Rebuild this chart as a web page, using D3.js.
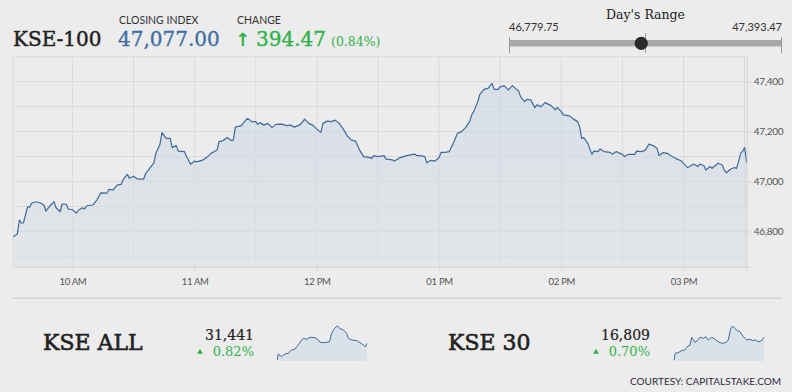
<!DOCTYPE html>
<html>
<head>
<meta charset="utf-8">
<script src="https://cdn.jsdelivr.net/npm/d3@7"></script>
<style>
  html, body { margin: 0; padding: 0; background: #ececec; }
  svg { display: block; }
</style>
</head>
<body>
<svg id="chart" width="792" height="392"></svg>
<script>
// ---- data ----
const indexName = 'KSE-100';
const closingIndex = 47077.00;
const indexChange = 394.47;
const indexChangePct = 0.84;
const dayLow = 46779.75;
const dayHigh = 47393.47;

// [minutes after 09:30, index value]
const kse100Series = [
  [1,46779],[3,46790],[4,46846],[5,46833],[6,46835],[8,46899],[9,46897],[10,46913],[12,46919],[14,46915],
  [16,46906],[17,46882],[19,46903],[21,46919],[22,46895],[24,46879],[25,46910],[27,46909],[28,46890],[30,46887],
  [32,46874],[33,46885],[35,46895],[36,46890],[37,46903],[40,46906],[42,46926],[44,46955],[47,46954],[48,46969],
  [50,46967],[52,46986],[54,46989],[55,47009],[57,47029],[58,47013],[60,47021],[62,47010],[65,47010],[66,47033],
  [67,47043],[70,47075],[71,47113],[73,47149],[74,47196],[76,47173],[78,47173],[79,47136],[81,47144],[82,47122],
  [85,47120],[86,47100],[88,47069],[90,47082],[91,47079],[94,47086],[96,47097],[98,47112],[101,47126],[102,47160],
  [104,47164],[106,47176],[108,47164],[109,47166],[110,47218],[113,47224],[114,47236],[116,47253],[118,47240],[120,47240],
  [121,47229],[122,47236],[124,47226],[126,47233],[128,47216],[130,47229],[133,47230],[135,47224],[137,47226],[139,47218],
  [142,47229],[144,47250],[146,47233],[148,47226],[150,47210],[152,47197],[153,47233],[155,47242],[157,47240],[159,47246],
  [161,47233],[163,47210],[165,47182],[167,47166],[169,47162],[171,47126],[173,47100],[176,47096],[177,47093],[178,47104],
  [180,47100],[183,47104],[184,47090],[187,47087],[188,47082],[191,47096],[194,47104],[198,47110],[199,47104],[201,47104],
  [203,47100],[204,47075],[206,47085],[208,47082],[210,47096],[211,47117],[213,47117],[215,47120],[217,47153],[219,47193],
  [221,47200],[223,47216],[225,47240],[226,47267],[227,47280],[229,47320],[230,47349],[232,47369],[234,47373],[236,47393],
  [237,47369],[239,47369],[240,47380],[242,47383],[244,47367],[246,47384],[248,47369],[249,47364],[250,47340],[252,47320],
  [253,47329],[255,47327],[257,47296],[258,47307],[260,47300],[262,47316],[265,47304],[267,47287],[268,47297],[270,47280],
  [271,47267],[274,47263],[276,47250],[278,47240],[279,47220],[280,47173],[281,47176],[283,47153],[285,47109],[286,47122],
  [288,47120],[289,47130],[291,47120],[294,47117],[295,47109],[297,47120],[298,47116],[300,47109],[301,47100],[303,47109],
  [306,47109],[307,47122],[309,47120],[311,47124],[312,47136],[313,47150],[315,47144],[317,47133],[318,47104],[320,47116],
  [322,47113],[324,47102],[326,47093],[329,47082],[330,47073],[332,47056],[333,47060],[335,47070],[337,47060],[338,47070],
  [340,47063],[341,47046],[343,47060],[344,47053],[345,47060],[347,47073],[349,47066],[350,47046],[351,47035],[353,47049],
  [355,47056],[356,47053],[357,47080],[358,47113],[359,47122],[360,47136],[361,47077]
];

const yTickValues = [46800, 47000, 47200, 47400];
const yGridStep = 100;
const yDomain = [46659, 47500];

const subNames = ['KSE ALL', 'KSE 30'];
const subCloses = [31441, 16809];
const subChangePcts = [0.82, 0.70];
const kseAllSeries = [
  [1,31188],[5,31233],[18,31213],[32,31233],[45,31238],[59,31263],[72,31268],[79,31288],[92,31318],[99,31338],
  [108,31350],[119,31343],[133,31358],[153,31355],[166,31338],[173,31320],[193,31318],[211,31325],[220,31388],[231,31425],
  [243,31443],[253,31425],[267,31413],[280,31388],[287,31350],[301,31338],[321,31333],[334,31318],[348,31300],[357,31288],
  [361,31313]
];
const kse30Series = [
  [1,16625],[6,16655],[18,16658],[32,16667],[45,16670],[54,16685],[65,16692],[72,16727],[78,16718],[85,16703],
  [94,16712],[105,16727],[118,16722],[129,16730],[138,16715],[152,16727],[165,16718],[178,16707],[192,16700],[209,16703],
  [218,16715],[228,16767],[236,16778],[245,16767],[254,16757],[265,16752],[278,16730],[292,16715],[305,16718],[316,16712],
  [325,16715],[338,16707],[352,16712],[361,16727]
];
const sparkDomains = [[31180, 31443], [16620, 16778]];

const courtesy = 'COURTESY: CAPITALSTAKE.COM';

// ---- setup ----
const serif = '"DejaVu Serif", serif';
const sans = 'Lato, "Open Sans", sans-serif';
const lineColor = '#3b6a9c';
const green = '#2fb24a';

const svg = d3.select('#chart');
const sessionStart = new Date(2020, 0, 6, 9, 30);
const toTime = m => d3.timeMinute.offset(sessionStart, m);

const plot = { left: 13.3, right: 746.7, top: 56.7, bottom: 266.7 };

const x = d3.scaleTime()
  .domain([toTime(1), toTime(361.5)])
  .range([plot.left, plot.right]);
const y = d3.scaleLinear()
  .domain(yDomain)
  .range([plot.bottom, plot.top]);

// heavier serif, closer to the original web font
function heavy(sel, color, w) {
  return sel.attr('fill', color).attr('stroke', color).attr('stroke-width', w || 0.45);
}

// ---- header ----
const header = svg.append('g');
heavy(header.append('text')
  .attr('x', 13).attr('y', 46)
  .attr('font-family', serif).attr('font-size', 20), '#222')
  .text(indexName);

header.append('text')
  .attr('x', 119).attr('y', 24)
  .attr('font-family', sans).attr('font-size', 10.5).attr('fill', '#333')
  .text('CLOSING INDEX');
heavy(header.append('text')
  .attr('x', 118).attr('y', 46)
  .attr('font-family', serif).attr('font-size', 20), '#3f6fa6', 0.35)
  .text(d3.format(',.2f')(closingIndex));

header.append('text')
  .attr('x', 237).attr('y', 24)
  .attr('font-family', sans).attr('font-size', 10.5).attr('fill', '#333')
  .text('CHANGE');
header.append('text')
  .attr('x', 235).attr('y', 46)
  .attr('font-family', '"DejaVu Sans", sans-serif').attr('font-size', 18).attr('font-weight', 'bold')
  .attr('fill', green)
  .text('\u2191');
heavy(header.append('text')
  .attr('x', 256).attr('y', 46)
  .attr('font-family', serif).attr('font-size', 20), green, 0.35)
  .text(d3.format('.2f')(indexChange));
header.append('text')
  .attr('x', 331).attr('y', 46)
  .attr('font-family', serif).attr('font-size', 12.5).attr('fill', green)
  .text(`(${d3.format('.2f')(indexChangePct)}%)`);

// ---- day's range slider ----
const range = svg.append('g');
const rangeX = d3.scaleLinear().domain([dayLow, dayHigh]).range([509.5, 781.5]);
range.append('text')
  .attr('x', 645.5).attr('y', 19).attr('text-anchor', 'middle')
  .attr('font-family', serif).attr('font-size', 12.5).attr('fill', '#222')
  .text("Day's Range");
range.append('text')
  .attr('x', 509).attr('y', 31)
  .attr('font-family', sans).attr('font-size', 11).attr('fill', '#333')
  .text(d3.format(',.2f')(dayLow));
range.append('text')
  .attr('x', 782).attr('y', 31).attr('text-anchor', 'end')
  .attr('font-family', sans).attr('font-size', 11).attr('fill', '#333')
  .text(d3.format(',.2f')(dayHigh));
range.append('rect')
  .attr('x', rangeX(dayLow)).attr('y', 40)
  .attr('width', rangeX(dayHigh) - rangeX(dayLow)).attr('height', 6.5)
  .attr('fill', '#a9a9a9');
[dayLow, dayHigh].forEach(v => {
  range.append('line')
    .attr('x1', rangeX(v)).attr('x2', rangeX(v))
    .attr('y1', 37).attr('y2', 53)
    .attr('stroke', '#999').attr('stroke-width', 1);
});
range.append('line')
  .attr('x1', rangeX((dayLow + dayHigh) / 2)).attr('x2', rangeX((dayLow + dayHigh) / 2))
  .attr('y1', 33).attr('y2', 53)
  .attr('stroke', '#999').attr('stroke-width', 1);
range.append('circle')
  .attr('cx', rangeX(closingIndex)).attr('cy', 43.3).attr('r', 6.6)
  .attr('fill', '#2b2b2b');

// ---- main chart ----
const defs = svg.append('defs');
const grad = defs.append('linearGradient')
  .attr('id', 'areaFill').attr('x1', 0).attr('y1', 0).attr('x2', 0).attr('y2', 1);
grad.append('stop').attr('offset', '0%').attr('stop-color', '#c9d6e4').attr('stop-opacity', 0.6);
grad.append('stop').attr('offset', '100%').attr('stop-color', '#dde1e6').attr('stop-opacity', 0.6);

const grid = svg.append('g').attr('stroke', '#dadada').attr('stroke-width', 1);
d3.range(46700, yDomain[1] + 1, yGridStep).forEach(v => {
  grid.append('line')
    .attr('x1', plot.left).attr('x2', plot.right)
    .attr('y1', y(v)).attr('y2', y(v));
});
d3.range(0, 361, 30).forEach(m => {
  const xx = x(toTime(m));
  if (xx < plot.left - 0.5) return;
  grid.append('line')
    .attr('x1', xx).attr('x2', xx)
    .attr('y1', plot.top).attr('y2', plot.bottom);
});
grid.append('line')
  .attr('x1', plot.left).attr('x2', plot.left)
  .attr('y1', plot.top).attr('y2', plot.bottom);

const area = d3.area()
  .x(d => x(toTime(d[0])))
  .y0(plot.bottom)
  .y1(d => y(d[1]));
const line = d3.line()
  .x(d => x(toTime(d[0])))
  .y(d => y(d[1]));

svg.append('path')
  .datum(kse100Series)
  .attr('fill', 'url(#areaFill)')
  .attr('d', area);
svg.append('path')
  .datum(kse100Series)
  .attr('fill', 'none')
  .attr('stroke', lineColor)
  .attr('stroke-width', 1.2)
  .attr('stroke-linejoin', 'round')
  .attr('d', line);

// x axis
const hourTicks = d3.range(10, 16).map(h => new Date(2020, 0, 6, h, 0));
const xAxis = svg.append('g')
  .attr('transform', `translate(0,${plot.bottom})`)
  .call(d3.axisBottom(x)
    .tickValues(hourTicks)
    .tickFormat(d3.timeFormat('%I %p'))
    .tickSize(5)
    .tickSizeOuter(0));
xAxis.select('.domain').attr('stroke', '#d6d6d6').attr('d', `M${plot.left},0.5H751`);
xAxis.selectAll('.tick line').attr('stroke', '#d6d6d6');
xAxis.selectAll('.tick text')
  .attr('font-family', sans).attr('font-size', 9.5).attr('fill', '#555')
  .attr('letter-spacing', '-0.3').attr('dy', '1.05em');

// y axis on the right
const yAxis = svg.append('g')
  .attr('transform', `translate(${plot.right},0)`)
  .call(d3.axisRight(y)
    .tickValues(yTickValues)
    .tickFormat(d3.format(','))
    .tickSize(5)
    .tickSizeOuter(0));
yAxis.select('.domain').attr('stroke', '#d6d6d6').attr('d', `M0.5,${plot.top}V${plot.bottom + 5}`);
yAxis.selectAll('.tick line').attr('stroke', '#d6d6d6');
yAxis.selectAll('.tick text')
  .attr('font-family', sans).attr('font-size', 10).attr('fill', '#555')
  .attr('letter-spacing', '-0.3').attr('x', 7);

// separator
svg.append('line')
  .attr('x1', 13).attr('x2', 782).attr('y1', 298.3).attr('y2', 298.3)
  .attr('stroke', '#d2d2d2').attr('stroke-width', 1.5);

// ---- sub indices ----
const subSeries = [kseAllSeries, kse30Series];
const subLayout = [
  { nameX: 43, valueX: 254, sparkX: [277.3, 366.7] },
  { nameX: 448, valueX: 650, sparkX: [674, 764] }
];
subNames.forEach((name, i) => {
  const g = svg.append('g');
  const L = subLayout[i];
  heavy(g.append('text')
    .attr('x', L.nameX).attr('y', 350)
    .attr('font-family', serif).attr('font-size', 22), '#222', 0.6)
    .text(name);
  heavy(g.append('text')
    .attr('x', L.valueX).attr('y', 339.5).attr('text-anchor', 'end')
    .attr('font-family', serif).attr('font-size', 14), '#222', 0.2)
    .text(d3.format(',')(subCloses[i]));
  g.append('text')
    .attr('x', L.valueX).attr('y', 356).attr('text-anchor', 'end')
    .attr('font-family', serif).attr('font-size', 13).attr('fill', green)
    .text(`${d3.format('.2f')(subChangePcts[i])}%`);
  g.append('path')
    .attr('transform', `translate(${L.valueX - 54},352)`)
    .attr('d', d3.symbol(d3.symbolTriangle, 14)())
    .attr('fill', green);

  const sx = d3.scaleLinear().domain([1, 361]).range(L.sparkX);
  const sy = d3.scaleLinear().domain(sparkDomains[i]).range([361, 326]);
  g.append('path')
    .datum(subSeries[i])
    .attr('fill', '#d9e1e9')
    .attr('d', d3.area().x(d => sx(d[0])).y0(361).y1(d => sy(d[1])));
  g.append('path')
    .datum(subSeries[i])
    .attr('fill', 'none')
    .attr('stroke', lineColor)
    .attr('stroke-width', 1)
    .attr('d', d3.line().x(d => sx(d[0])).y(d => sy(d[1])));
});

svg.append('text')
  .attr('x', 781).attr('y', 385).attr('text-anchor', 'end')
  .attr('font-family', sans).attr('font-size', 10).attr('fill', '#2e2a3a')
  .text(courtesy);
</script>
</body>
</html>
